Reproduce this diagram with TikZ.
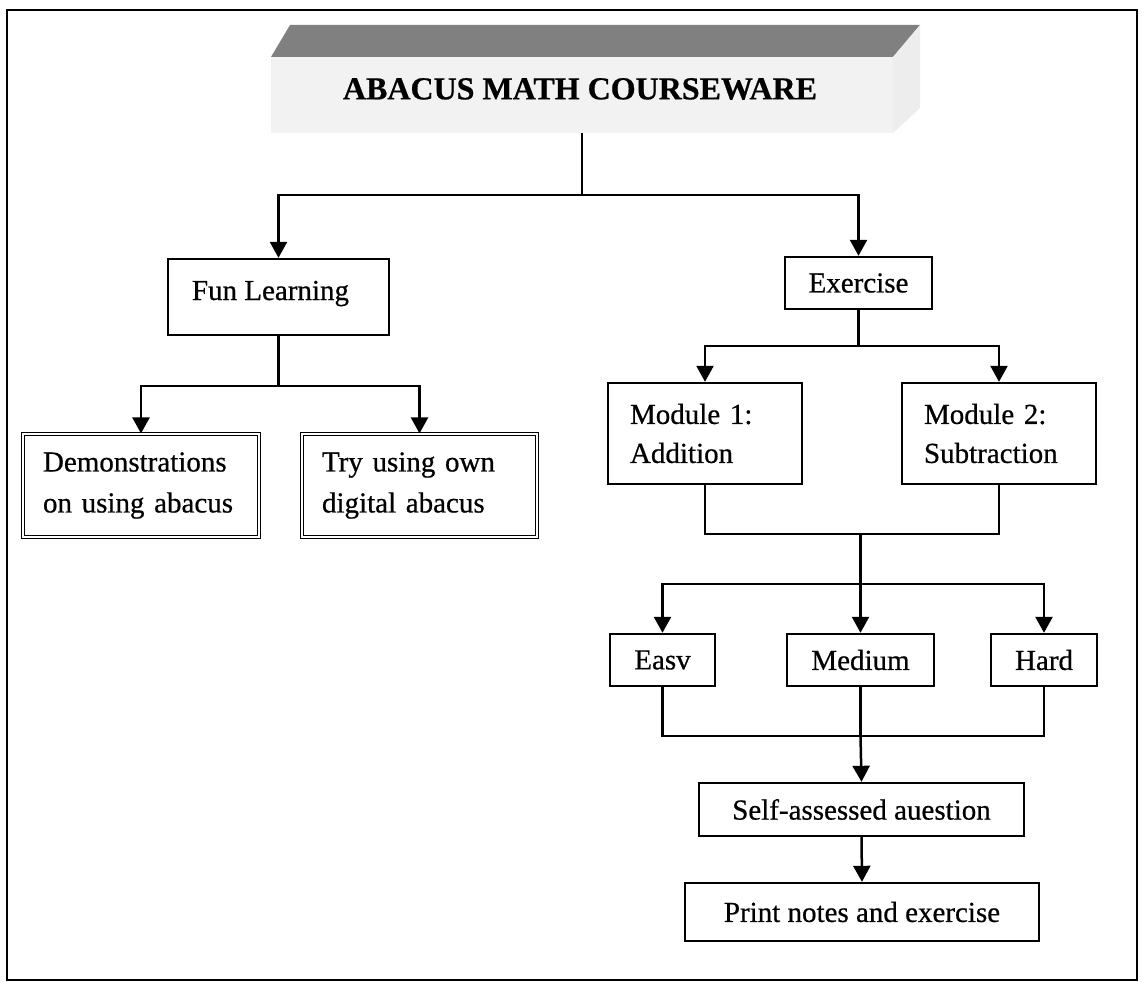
\documentclass[tikz,border=0pt]{standalone}
\usepackage{fontspec}
\setmainfont{Liberation Serif}[FakeBold=0.6]
\usetikzlibrary{arrows.meta,calc}
\begin{document}
\begin{tikzpicture}[x=1pt,y=-1pt,
  conn/.style={line width=2.5pt},
  arr/.style={line width=2.5pt,-{Triangle[length=16pt,width=17pt]}},
  box/.style={draw,line width=2.4pt,fill=white,inner sep=0pt,
              font=\fontsize{29}{33}\selectfont},
  twoline/.style={box,align=left,inner ysep=0pt,
              font=\fontsize{29}{41}\selectfont},
  dblbox/.style={twoline,double,double distance=1.6pt,line width=1.2pt},
  titleface/.style={fill=black!5,inner sep=0pt},
  titletxt/.style={inner sep=0pt,font=\fontsize{32}{32}\selectfont\bfseries}]

\useasboundingbox (0,0) rectangle (1142,984);
\fill[white] (0,0) rectangle (1142,984);
\draw[line width=2.5pt] (7,10) rectangle (1137,980);

% title banner
\node[titleface,minimum width=622pt,minimum height=76pt] (title) at (582,95) {};
\fill[black!50] (271,57) -- (290,25) -- (920,25) -- (893,57) -- cycle;
\fill[black!7] (893,57) -- (920,25) -- (920,108) -- (893,133) -- cycle;
\node[titletxt] (titletext) at (580,89) {ABACUS MATH COURSEWARE};

% level 1
\node[box,minimum width=221pt,text height=41pt,text depth=35pt] (fun) at (278.5,297) {Fun Learning\hspace*{16pt}};
\node[box,minimum width=147pt,minimum height=52pt] (ex) at (858.5,283) {Exercise};

% fun learning children
\node[dblbox,text width=196pt,inner xsep=20pt,minimum height=103pt] (demo) at (141,485.5) {Demonstrations\\on using abacus};
\node[dblbox,text width=195pt,inner xsep=20pt,minimum height=103pt] (try) at (419.5,485.5) {Try using own\\digital abacus};

% modules
\node[twoline,text width=150pt,inner xsep=22pt,minimum height=101pt,font=\fontsize{29}{39}\selectfont] (m1) at (705,433.5) {Module 1:\\Addition};
\node[twoline,text width=150pt,inner xsep=22pt,minimum height=101pt,font=\fontsize{29}{39}\selectfont] (m2) at (999,433.5) {Module 2:\\Subtraction};

% levels
\node[box,minimum width=105pt,minimum height=52pt] (easy) at (662.5,660) {Easv};
\node[box,minimum width=147pt,minimum height=52pt] (med) at (860.5,660) {Medium};
\node[box,minimum width=106pt,minimum height=52pt] (hard) at (1044,660) {Hard};

\node[box,minimum width=325pt,minimum height=53pt] (self) at (861.5,809.5) {Self-assessed auestion};
\node[box,minimum width=354pt,minimum height=58pt] (print) at (862,912) {Print notes and exercise};

% connectors
\coordinate (j0) at ($(title.south)+(0,62)$);
\draw[conn] (title.south) -- (j0);
\draw[arr] (j0) -| (fun.north);
\draw[arr] (j0) -| (ex.north);

\coordinate (j1) at ($(fun.south)+(0,50)$);
\draw[conn] (fun.south) -- (j1);
\draw[arr] (j1) -| (demo.north);
\draw[arr] (j1) -| (try.north);

\coordinate (j2) at ($(ex.south)+(0,36)$);
\draw[conn] (ex.south) -- (j2);
\draw[arr] (j2) -| (m1.north);
\draw[arr] (j2) -| (m2.north);

\coordinate (j3) at ($(m1.south)+(0,49)$);
\coordinate (j3m) at (med |- j3);
\coordinate (j4) at ($(j3m)+(0,50)$);
\draw[conn] (m1.south) -- (j3) -| (m2.south);
\draw[conn] (j3m) -- (j4);
\draw[arr] (j4) -| (easy.north);
\draw[arr] (j4) -- (med.north);
\draw[arr] (j4) -| (hard.north);

\coordinate (j5) at ($(med.south)+(0,49)$);
\draw[conn] (easy.south) |- (j5);
\draw[conn] (hard.south) |- (j5);
\draw[conn] (med.south) -- (j5);
\draw[arr] (j5) -- (self.north);
\draw[arr] (self.south) -- (print.north);
\end{tikzpicture}
\end{document}
